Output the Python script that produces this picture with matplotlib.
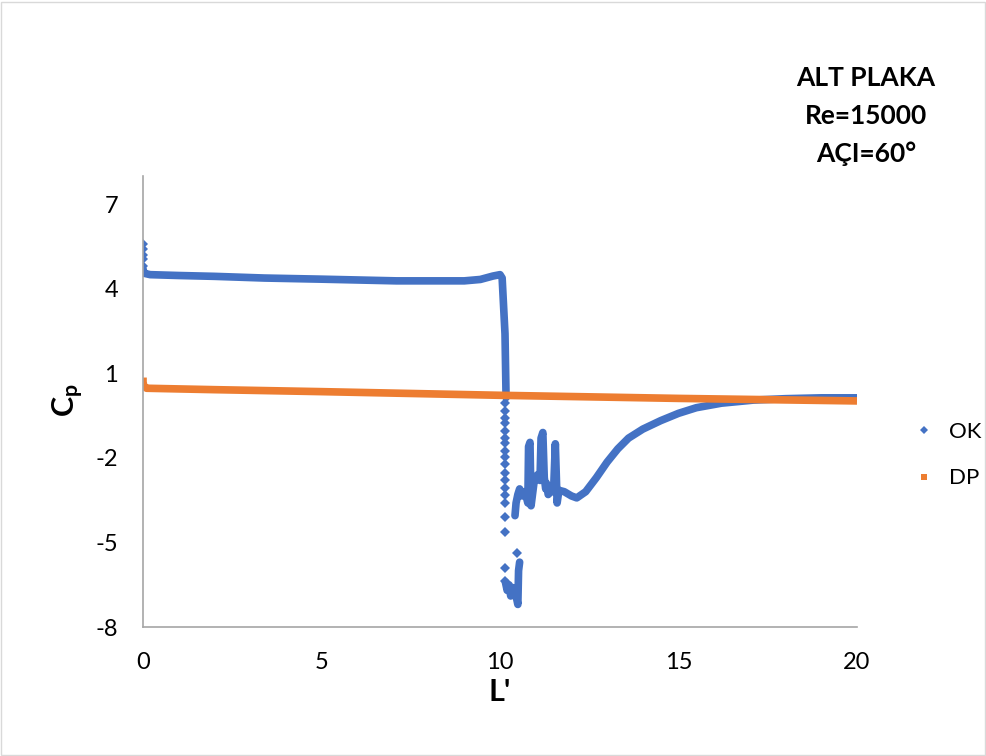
import numpy as np
import matplotlib
matplotlib.use('Agg')
import matplotlib.pyplot as plt
from matplotlib.lines import Line2D
from matplotlib.patches import Rectangle

plt.rcParams['font.family'] = ['Lato', 'DejaVu Sans']
plt.rcParams['mathtext.fontset'] = 'custom'
plt.rcParams['mathtext.rm'] = 'Lato'
plt.rcParams['mathtext.bf'] = 'Lato:bold'
plt.rcParams['axes.unicode_minus'] = False

BLUE = '#4472C4'
ORANGE = '#ED7D31'

# OK series - dense part (reads as a thick line)
ok_x = [0.0, 0.03, 0.2, 1.0, 2.0, 3.4, 5.0, 7.1, 9.0, 9.45, 9.8, 10.0, 10.06, 10.14, 10.17,
        np.nan,
        10.15, 10.2, 10.25, 10.3, 10.35, 10.45, 10.5, 10.52, 10.55,
        np.nan,
        10.42, 10.45, 10.5, 10.55, 10.62, 10.7, 10.78, 10.8, 10.84, 10.87, 10.95, 11.05, 11.12,
        11.15, 11.2, 11.24, 11.28, 11.3, 11.35, 11.45, 11.5, 11.55, 11.6, 11.65, 11.8, 12.0,
        12.15, 12.4, 12.7, 13.0, 13.3, 13.6, 14.0, 14.5, 15.0, 15.5, 16.2, 17.1, 18.0, 19.0, 20.0]
ok_y = [4.7, 4.55, 4.5, 4.47, 4.44, 4.38, 4.34, 4.28, 4.28, 4.33, 4.45, 4.5, 4.38, 2.4, 0.14,
        np.nan,
        -6.4, -6.7, -6.5, -6.9, -6.6, -6.9, -7.2, -6.0, -5.7,
        np.nan,
        -4.05, -3.6, -3.3, -3.1, -3.35, -3.2, -3.6, -1.6, -1.45, -3.7, -2.9, -2.6, -2.8,
        -1.3, -1.1, -2.7, -3.1, -2.9, -3.3, -3.15, -3.2, -1.5, -3.6, -3.15, -3.2, -3.35,
        -3.42, -3.2, -2.7, -2.15, -1.68, -1.3, -0.98, -0.68, -0.42, -0.22, -0.06, 0.05, 0.1, 0.13, 0.13]

# OK series - separated points
ok_pts_x = [0.0, 0.0, 0.0, 0.0, 0.0,
            10.14, 10.14, 10.14, 10.14, 10.14, 10.14, 10.14, 10.14, 10.14, 10.14, 10.14,
            10.14, 10.14, 10.14, 10.14, 10.14, 10.14, 10.14, 10.48, 10.14]
ok_pts_y = [5.59, 5.41, 5.2, 5.05, 4.81,
            -0.07, -0.32, -0.57, -0.78, -1.03, -1.28, -1.49, -1.74, -1.98, -2.2, -2.52,
            -2.8, -3.08, -3.33, -3.61, -4.11, -4.64, -5.91, -5.38, -6.37]

# DP series
dp_x = [0.0, 0.0, 0.02, 0.1, 2.0, 5.0, 10.0, 15.0, 20.0]
dp_y = [0.85, 0.7, 0.55, 0.47, 0.42, 0.35, 0.22, 0.11, 0.02]

x_ticks = [0, 5, 10, 15, 20]
y_ticks = [-8, -5, -2, 1, 4, 7]

W, H = 987, 756
fig = plt.figure(figsize=(W / 100, H / 100), dpi=100)
ax = fig.add_axes([143 / W, 1 - 627 / H, 714 / W, 451 / H])

ax.plot(ok_x, ok_y, color=BLUE, lw=5.5, solid_capstyle='round', solid_joinstyle='round')
ax.plot(ok_pts_x, ok_pts_y, 'D', color=BLUE, ms=5.5, mew=0)
ax.plot(dp_x, dp_y, color=ORANGE, lw=5.5, solid_capstyle='butt')

ax.set_xlim(0, 20)
ax.set_ylim(-8, 8)
ax.set_xticks(x_ticks)
ax.set_yticks(y_ticks)
ax.tick_params(length=0, labelsize=17, pad=18, colors='#000000')
for s in ['top', 'right']:
    ax.spines[s].set_visible(False)
for s in ['left', 'bottom']:
    ax.spines[s].set_color('#A6A6A6')
    ax.spines[s].set_linewidth(1.2)

fig.text(68 / W, 1 - 400 / H, r'$\mathbf{C_p}$', fontsize=22, rotation=90,
         ha='center', va='center')
fig.text(500 / W, 1 - 692 / H, "L'", fontsize=22, fontweight='bold',
         ha='center', va='center')

for i, t in enumerate(['ALT PLAKA', 'Re=15000', 'AÇI=60°']):
    fig.text(866 / W, 1 - (78 + 38 * i) / H, t, fontsize=19, fontweight='bold',
             ha='center', va='center')

handles = [Line2D([], [], ls='', marker='D', color=BLUE, ms=4.5, mew=0),
           Line2D([], [], ls='', marker='s', color=ORANGE, ms=5, mew=0)]
fig.legend(handles, ['OK', 'DP'], loc='center left', bbox_to_anchor=(893 / W, 1 - 455 / H),
           frameon=False, fontsize=16, handlelength=1.0, handletextpad=0.6,
           labelspacing=1.2)

fig.add_artist(Rectangle((0.001, 0.001), 0.997, 0.997, transform=fig.transFigure,
                         fill=False, edgecolor='#D9D9D9', lw=1))

fig.savefig('out.png', dpi=100)
